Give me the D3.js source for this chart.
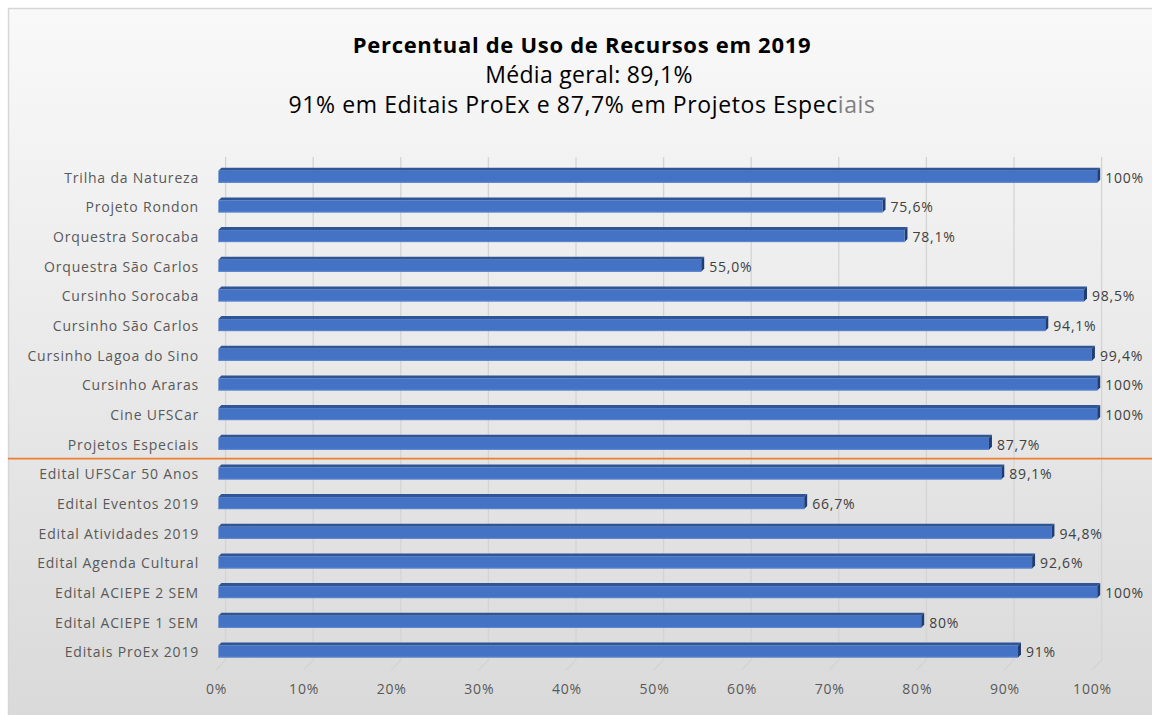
<!DOCTYPE html>
<html><head><meta charset="utf-8">
<script src="https://cdn.jsdelivr.net/npm/d3@7"></script>
<style>body{margin:0;background:#fff}svg{display:block}text{font-family:"Open Sans","Noto Sans",sans-serif}</style>
</head><body><svg id="c" width="1152" height="715"></svg>
<script>
const categories = ["Trilha da Natureza","Projeto Rondon","Orquestra Sorocaba","Orquestra São Carlos","Cursinho Sorocaba","Cursinho São Carlos","Cursinho Lagoa do Sino","Cursinho Araras","Cine UFSCar","Projetos Especiais","Edital UFSCar 50 Anos","Edital Eventos 2019","Edital Atividades 2019","Edital Agenda Cultural","Edital ACIEPE 2 SEM","Edital ACIEPE 1 SEM","Editais ProEx 2019"];
const values = [100,75.6,78.1,55.0,98.5,94.1,99.4,100,100,87.7,89.1,66.7,94.8,92.6,100,80,91];
const valueLabels = ["100%","75,6%","78,1%","55,0%","98,5%","94,1%","99,4%","100%","100%","87,7%","89,1%","66,7%","94,8%","92,6%","100%","80%","91%"];
const tickValues = [0,10,20,30,40,50,60,70,80,90,100];
const titleText = "Percentual de Uso de Recursos em 2019";
const subtitle1 = "Média geral: 89,1%";
const subtitle2a = "91% em Editais ProEx e 87,7% em Projetos Espec";
const subtitle2b = "iais";
const separatorAfter = "Projetos Especiais";

const svg = d3.select("#c");
const defs = svg.append("defs");
const g = defs.append("linearGradient").attr("id","bg").attr("x1",0).attr("y1",0).attr("x2",0).attr("y2",1);
g.append("stop").attr("offset","0%").attr("stop-color","#f9f9f9");
g.append("stop").attr("offset","100%").attr("stop-color","#d9d9d9");
svg.append("rect").attr("x",8.5).attr("y",8.5).attr("width",1160).attr("height",720)
  .attr("fill","url(#bg)").attr("stroke","#d6d6d6").attr("stroke-width",1.5);

const x = d3.scaleLinear().domain([0,100]).range([216,1092]);
const y = d3.scaleBand().domain(categories).range([161.9,666.3]);
const depthX = 9.6, depthY = -10;
const floorY = 670;

// gridlines (back wall + floor diagonal)
const grid = svg.append("g");
tickValues.forEach(v=>{
  grid.append("path")
    .attr("d",`M${x(v)+depthX},157 L${x(v)+depthX},${floorY+depthY} L${x(v)},${floorY}`)
    .attr("fill","none").attr("stroke","#d4d4d4").attr("stroke-width",1.3);
});

// x axis labels
const xAxis = d3.axisBottom(x).tickValues(tickValues).tickFormat(d=>d+"%").tickSize(0).tickPadding(0);
const ax = svg.append("g").attr("transform",`translate(0,${floorY+14})`).call(xAxis);
ax.select(".domain").remove();
ax.selectAll("text").attr("fill","#595959").style("font-size","14px").style("letter-spacing","0.8px").attr("dy","0.71em");

// y axis labels
const yAxis = d3.axisLeft(y).tickSize(0).tickPadding(0);
const ay = svg.append("g").attr("transform","translate(199,1.5)").call(yAxis);
ay.select(".domain").remove();
ay.selectAll("text").attr("fill","#595959").style("font-size","14px").style("letter-spacing","0.8px");

// bars (3D)
const bh = 12, bo = 2.4, td = 3, tdy = -3;
const bars = svg.append("g");
categories.forEach((c,i)=>{
  const cy = y(c)+y.bandwidth()/2;
  const x0 = x(0)+bo, x1 = x(values[i])+bo*0.5 + (values[i]/100)*4;
  const top = cy-bh/2, bot = cy+bh/2;
  bars.append("path").attr("d",`M${x0},${top} L${x0+td},${top+tdy} L${x1+td},${top+tdy} L${x1},${top} Z`).attr("fill","#2f5597");
  bars.append("path").attr("d",`M${x1},${top} L${x1+td},${top+tdy} L${x1+td},${bot+tdy} L${x1},${bot} Z`).attr("fill","#1f3d73");
  bars.append("rect").attr("x",x0).attr("y",top).attr("width",x1-x0).attr("height",bh).attr("fill","#4472c4");
  bars.append("line").attr("x1",x0).attr("x2",x1).attr("y1",bot-0.5).attr("y2",bot-0.5).attr("stroke","#5b85d0").attr("stroke-width",1);
  svg.append("text").attr("x",x1+td+5).attr("y",cy+1).attr("dy","0.35em")
    .attr("fill","#404040").style("font-size","14px").style("letter-spacing","0.8px").text(valueLabels[i]);
});

// separator line
const sepY = y(separatorAfter)+y.step();
svg.append("line").attr("x1",8).attr("x2",1152).attr("y1",sepY).attr("y2",sepY)
  .attr("stroke","#ed7d31").attr("stroke-width",1.8);

// titles
svg.append("text").attr("x",582).attr("y",53).attr("text-anchor","middle")
  .style("font-size","22px").style("font-weight","bold").style("letter-spacing","0.7px").attr("fill","#000").text(titleText);
svg.append("text").attr("x",589).attr("y",83).attr("text-anchor","middle")
  .style("font-size","23px").style("letter-spacing","0.3px").attr("fill","#000").text(subtitle1);
const t3 = svg.append("text").attr("x",582).attr("y",113).attr("text-anchor","middle")
  .style("font-size","23px").style("letter-spacing","0.6px").attr("fill","#000");
t3.append("tspan").text(subtitle2a);
t3.append("tspan").attr("fill","#7f7f7f").text(subtitle2b);
</script></body></html>
